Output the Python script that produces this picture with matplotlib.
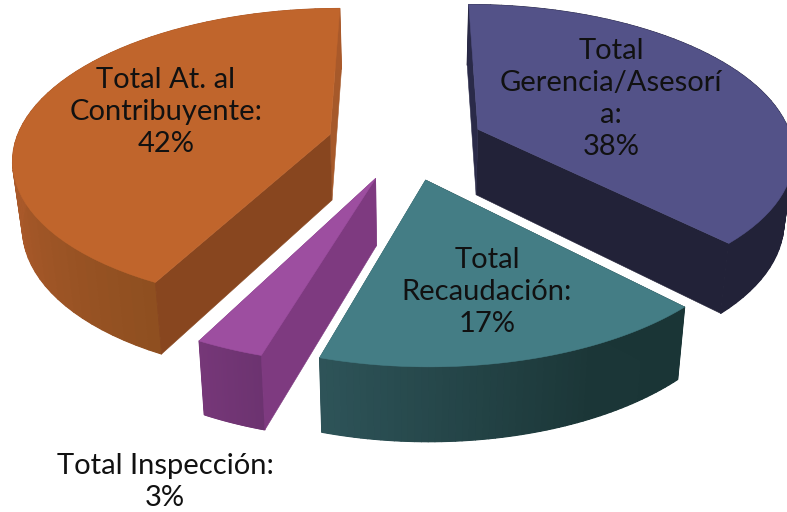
import numpy as np
import matplotlib
matplotlib.use("Agg")
import matplotlib.pyplot as plt
from matplotlib.patches import Polygon
from matplotlib.collections import PolyCollection
from matplotlib.colors import to_rgb

# --- data ---
categories = ["Total Gerencia/Asesoría", "Total Recaudación", "Total Inspección", "Total At. al Contribuyente"]
shares = [37.6, 16.9, 2.9, 42.4]
label_texts = ["Total\nGerencia/Asesorí\na:\n38%", "Total\nRecaudación:\n17%",
               "Total Inspección:\n3%", "Total At. al\nContribuyente:\n42%"]

# --- styles / layout ---
top_colors = ["#535288", "#447D85", "#9D4EA0", "#C0652C"]
wall_start = ["#2A2A48", "#1A3536", "#7E3A80", "#88461F"]
wall_end = ["#222238", "#2E5459", "#7E3A80", "#A6592A"]
side_stops = [[(0, "#222238"), (1, "#222238")],
              [(0, "#1A3536"), (.3, "#1B3637"), (1, "#2E5459")],
              [(0, "#6C3370"), (1, "#763778")],
              [(0, "#8F4F20"), (.3, "#A9592A"), (1, "#A9592A")]]
label_xy = [(611, 99), (487, 292), (165, 482), (166, 112)]
LINE = 1.3

CX, CY, RX, RY, K = 406, 143, 315, 147, .148
EXPLODE, THETA0, DEPTH, BOT_SCALE = .25, 0.0, 66, .975


def project(X, Y):
    s = 1 / (1 + K * Y)
    return CX + RX * X * s, CY - RY * Y * s, s


def bottom(x, y, s):
    return CX + (x - CX) * BOT_SCALE, y + DEPTH * (1 + .6 * (s - 1))


fig = plt.figure(figsize=(7.87, 5.12), dpi=100)
ax = fig.add_axes([0, 0, 1, 1])
ax.set_xlim(0, 787)
ax.set_ylim(512, 0)
ax.axis("off")

edges = THETA0 + np.concatenate([[0], np.cumsum(shares)]) / sum(shares) * 360
for i in range(len(shares)):
    a0, a1 = edges[i], edges[i + 1]
    mid = np.radians((a0 + a1) / 2)
    ex, ey = EXPLODE * np.sin(mid), EXPLODE * np.cos(mid)
    th = np.radians(np.linspace(a0, a1, 60))
    ax_, ay_, as_ = project(ex, ey)
    abx, aby = bottom(ax_, ay_, as_)
    x, y, s = project(ex + np.sin(th), ey + np.cos(th))
    bx, by = bottom(x, y, s)

    # radial walls
    ax.add_patch(Polygon([(ax_, ay_), (x[-1], y[-1]), (bx[-1], by[-1]), (abx, aby)],
                         fc=wall_end[i], ec=wall_end[i], lw=.4, zorder=2 + i * .01))
    # outer rim: a solid underlay, then shading along the arc
    fr = (th - th[0]) / (th[-1] - th[0])
    st = side_stops[i]
    pos = [p for p, _ in st]
    rgb = np.array([to_rgb(c) for _, c in st])
    cols = np.column_stack([np.interp(fr, pos, rgb[:, j]) for j in range(3)])
    ax.add_patch(Polygon(np.column_stack([np.r_[x, bx[::-1]], np.r_[y, by[::-1]]]),
                         fc=cols[len(cols) // 2], ec="none", zorder=2.5 + i * .01))
    quads = [[(x[j], y[j]), (x[j + 1], y[j + 1]), (bx[j + 1], by[j + 1]), (bx[j], by[j])]
             for j in range(len(x) - 1)]
    ax.add_collection(PolyCollection(quads, facecolors=cols[:-1], edgecolors=cols[:-1],
                                     linewidths=.8, zorder=3 + i * .01))
    ax.add_patch(Polygon([(ax_, ay_), (x[0], y[0]), (bx[0], by[0]), (abx, aby)],
                         fc=wall_start[i], ec=wall_start[i], lw=.4, zorder=4 + i * .01))
    # top face
    ax.add_patch(Polygon(np.column_stack([np.r_[ax_, x], np.r_[ay_, y]]),
                         fc=top_colors[i], ec=top_colors[i], lw=.4, zorder=5 + i * .01))

for txt, (tx, ty) in zip(label_texts, label_xy):
    ax.text(tx, ty, txt, ha="center", va="center", family="Lato", fontsize=21,
            color="#111111", linespacing=LINE, zorder=10)

fig.savefig("out.png", dpi=100)
